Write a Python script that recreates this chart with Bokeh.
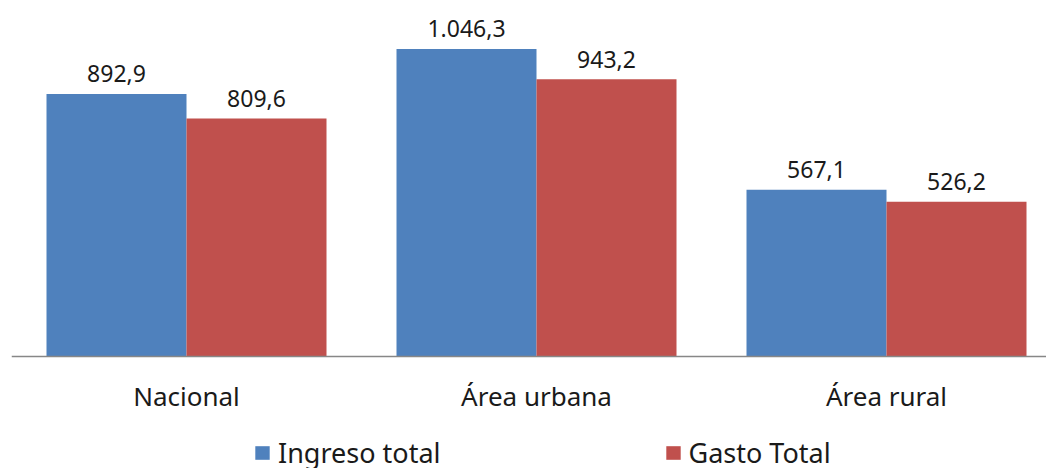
from bokeh.plotting import figure
from bokeh.models import ColumnDataSource, Range1d, FixedTicker, Legend, LegendItem
from bokeh.core.properties import value
from bokeh.embed import file_html
from bokeh.resources import INLINE

categories = ["Nacional", "Área urbana", "Área rural"]
ingreso = [892.9, 1046.3, 567.1]
gasto = [809.6, 943.2, 526.2]
series_names = ["Ingreso total", "Gasto Total"]
colors = ["#4F81BD", "#C0504D"]

def fmt(v):
    s = f"{v:,.1f}"
    return s.replace(",", "X").replace(".", ",").replace("X", ".")

FONT = "Noto Sans"
BAR_W = 0.4
PX_PER_UNIT = 0.294

xc = [i + 0.5 for i in range(len(categories))]

p = figure(width=1046, height=468, output_backend="svg", toolbar_location=None,
           x_range=Range1d(0, 1035 / 350),
           y_range=Range1d(-112 / PX_PER_UNIT, 356 / PX_PER_UNIT),
           y_axis_location=None, min_border_left=11, min_border_right=0,
           min_border_top=0, min_border_bottom=0)
p.outline_line_color = None
p.xgrid.visible = False
p.ygrid.visible = False
p.background_fill_color = "white"
p.border_fill_color = "white"

renderers = []
for k, (vals, col) in enumerate([(ingreso, colors[0]), (gasto, colors[1])]):
    off = (k - 0.5) * BAR_W
    src = ColumnDataSource(dict(x=[x + off for x in xc], top=vals,
                                lab=[fmt(v) for v in vals]))
    r = p.vbar(x="x", top="top", bottom=0, width=BAR_W, source=src, fill_color=col,
               line_color=None)
    renderers.append(r)
    p.text(x="x", y="top", text="lab", source=src, text_align="center",
           text_baseline="alphabetic", y_offset=-20, text_font=value(FONT),
           text_font_size="23px", text_color="#1a1a1a")

ax = p.xaxis[0]
ax.fixed_location = 0
ax.ticker = FixedTicker(ticks=xc)
ax.major_label_overrides = {x: c for x, c in zip(xc, categories)}
ax.major_tick_line_color = None
ax.minor_tick_line_color = None
ax.axis_line_color = "#878787"
ax.axis_line_width = 1.5
ax.major_label_text_font = FONT
ax.major_label_text_font_size = "26px"
ax.major_label_text_color = "#1a1a1a"
ax.major_label_standoff = 15

legend = Legend(items=[LegendItem(label=n, renderers=[r]) for n, r in zip(series_names, renderers)],
                orientation="horizontal", location=(242, -3), spacing=223,
                glyph_width=18, glyph_height=17, label_standoff=7,
                label_text_font=FONT, label_text_font_size="27px",
                label_text_color="#1a1a1a", border_line_color=None,
                background_fill_alpha=0, padding=0, margin=0)
p.add_layout(legend, "center")

open("out.html", "w").write(file_html(p, INLINE))
